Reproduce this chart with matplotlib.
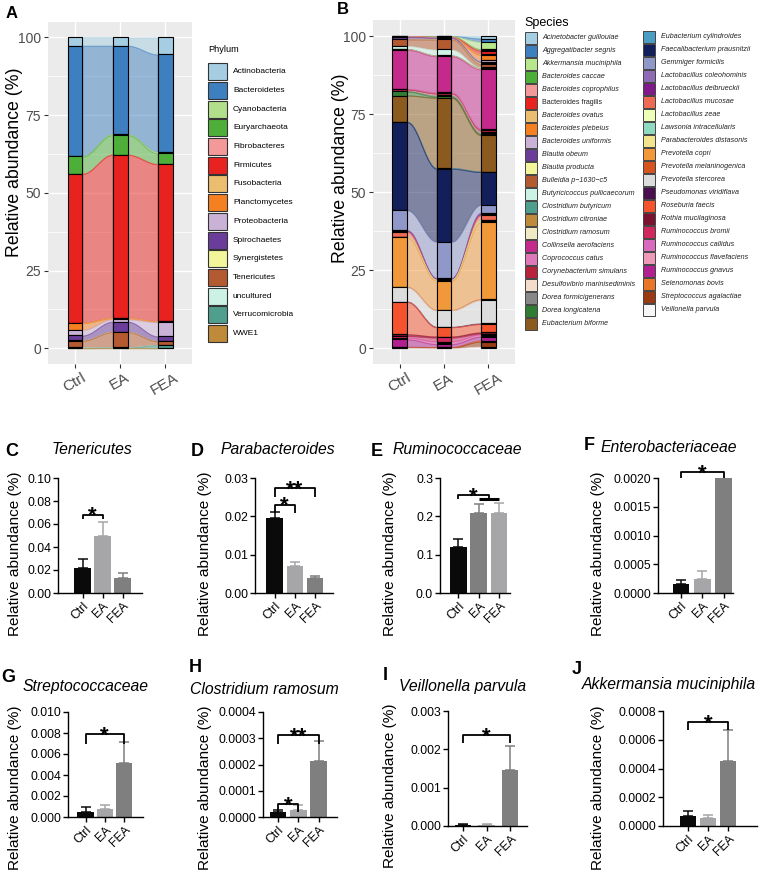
import numpy as np
import matplotlib
matplotlib.use('Agg')
import matplotlib.pyplot as plt
from matplotlib.patches import Rectangle

plt.rcParams['font.family'] = ['Liberation Sans', 'DejaVu Sans']

W, H = 765, 873
fig = plt.figure(figsize=(W / 100, H / 100), dpi=100)

groups = ['Ctrl', 'EA', 'FEA']

# ---------------- panel A data (phylum, % per group, top to bottom)
phyla = ['Actinobacteria', 'Bacteroidetes', 'Cyanobacteria', 'Euryarchaeota',
         'Fibrobacteres', 'Firmicutes', 'Fusobacteria', 'Planctomycetes',
         'Proteobacteria', 'Spirochaetes', 'Synergistetes', 'Tenericutes',
         'uncultured', 'Verrucomicrobia', 'WWE1']
phylum_ctrl = [2.7, 35.4, 0.2, 5.5, 0.05, 47.9, 0.1, 2.2, 1.8, 1.6, 0.05, 2.2, 0.1, 0.1, 0.1]
phylum_ea = [2.7, 28.4, 0.3, 6.3, 0.05, 52.4, 0.2, 0.3, 0.8, 3.2, 0.1, 4.8, 0.2, 0.1, 0.15]
phylum_fea = [5.5, 31.3, 0.5, 3.4, 0.05, 50.5, 0.1, 0.2, 4.6, 1.5, 0.05, 1.2, 0.1, 0.9, 0.1]
phylum_colors = ['#a6cee3', '#3e7fbf', '#b2df8a', '#4daf3a', '#f4999a', '#e8231f',
                 '#ebbd6e', '#f58021', '#cab2d6', '#6a3d9a', '#f2f59a', '#b45a30',
                 '#ccf2e6', '#4f9e8e', '#bf8a3a']

# ---------------- panel B data (species, % per group, top to bottom)
species = ['Acinetobacter guillouiae', 'Aggregatibacter segnis', 'Akkermansia muciniphila',
           'Bacteroides caccae', 'Bacteroides coprophilus', 'Bacteroides fragilis',
           'Bacteroides ovatus', 'Bacteroides plebeius', 'Bacteroides uniformis',
           'Blautia obeum', 'Blautia producta', 'Bulleidia p\u22121630\u2212c5',
           'Butyricicoccus pullicaecorum', 'Clostridium butyricum', 'Clostridium citroniae',
           'Clostridium ramosum', 'Collinsella aerofaciens', 'Coprococcus catus',
           'Corynebacterium simulans', 'Desulfovibrio marinisediminis', 'Dorea formicigenerans',
           'Dorea longicatena', 'Eubacterium biforme', 'Eubacterium cylindroides',
           'Faecalibacterium prausnitzii', 'Gemmiger formicilis', 'Lactobacillus coleohominis',
           'Lactobacillus delbrueckii', 'Lactobacillus mucosae', 'Lactobacillus zeae',
           'Lawsonia intracellularis', 'Parabacteroides distasonis', 'Prevotella copri',
           'Prevotella melaninogenica', 'Prevotella stercorea', 'Pseudomonas viridiflava',
           'Roseburia faecis', 'Rothia mucilaginosa', 'Ruminococcus bromii',
           'Ruminococcus callidus', 'Ruminococcus flavefaciens', 'Ruminococcus gnavus',
           'Selenomonas bovis', 'Streptococcus agalactiae', 'Veillonella parvula']
species_ctrl = [0.0, 0.0, 0.05, 0.05, 0.0, 0.0, 0.05, 0.0, 0.05, 0.8, 0.05, 2.1, 1.0, 0.1, 0.1,
                0.05, 12.6, 0.1, 0.5, 0.05, 0.1, 1.3, 8.4, 0.1, 28.2, 6.4, 0.2, 0.3, 1.6, 0.05,
                0.05, 0.1, 15.9, 0.1, 4.6, 0.05, 10.4, 0.5, 0.6, 0.3, 0.2, 2.4, 0.1, 0.2, 0.2]
species_ea = [0.05, 0.05, 0.1, 0.1, 0.05, 0.05, 0.05, 0.05, 0.05, 0.5, 0.1, 3.2, 1.9, 0.1, 0.1,
              0.05, 11.6, 0.3, 0.4, 0.2, 0.4, 0.4, 22.5, 0.2, 23.4, 11.6, 0.2, 0.3, 0.1, 0.05,
              0.1, 0.1, 9.4, 0.1, 5.3, 0.1, 3.0, 0.3, 1.3, 0.5, 0.3, 1.0, 0.1, 0.2, 0.1]
species_fea = [0.8, 1.0, 2.4, 0.3, 0.2, 1.1, 0.3, 1.7, 0.4, 0.4, 0.3, 1.1, 0.3, 0.1, 0.1,
               0.2, 19.0, 0.3, 0.7, 0.2, 0.5, 0.3, 11.7, 0.1, 10.5, 2.5, 0.4, 0.4, 1.6, 0.2,
               0.2, 0.2, 24.8, 0.2, 7.5, 0.2, 2.7, 0.4, 0.3, 0.3, 0.3, 1.3, 0.3, 1.6, 0.6]
species_colors = ['#a6cee3', '#3e7fbf', '#b8e68c', '#4daf3a', '#f4999a', '#e8231f',
                  '#ebbd6e', '#f58021', '#cab2d6', '#6a3d9a', '#f2f59a', '#b45a30',
                  '#ccf2e6', '#4f9e8e', '#bf8a3a', '#efe9c4', '#c42a8c', '#de78b9',
                  '#b8223a', '#f4dccb', '#888888', '#2f7d33', '#8b5a1e', '#4b9dc4',
                  '#131f5a', '#8f98c9', '#8e6bb5', '#801a8a', '#ef6a55', '#eeffb8',
                  '#8ed9c0', '#f2e38d', '#f0983a', '#d55420', '#dcdcdc', '#4a0f4f',
                  '#f5532d', '#7b1230', '#d0285e', '#d96bbf', '#ee99b8', '#b0208f',
                  '#e8772a', '#9a3a12', '#f7f7f7']

# ---------------- panels C-J data (mean and upper error, %)
tenericutes_mean = [0.022, 0.050, 0.013]
tenericutes_err = [0.008, 0.012, 0.004]
parabacteroides_mean = [0.0195, 0.0070, 0.0038]
parabacteroides_err = [0.0017, 0.0012, 0.0006]
ruminococcaceae_mean = [0.120, 0.208, 0.210]
ruminococcaceae_err = [0.022, 0.024, 0.024]
enterobacteriaceae_mean = [0.00015, 0.00025, 0.0020]
enterobacteriaceae_err = [0.00008, 0.00014, 0.0]
streptococcaceae_mean = [0.0005, 0.0008, 0.0051]
streptococcaceae_err = [0.00045, 0.0003, 0.0020]
c_ramosum_mean = [0.000018, 0.000027, 0.000213]
c_ramosum_err = [0.000007, 0.00002, 0.000075]
v_parvula_mean = [0.00003, 0.00002, 0.00145]
v_parvula_err = [0.00003, 0.00002, 0.00065]
a_muciniphila_mean = [0.00007, 0.000055, 0.00045]
a_muciniphila_err = [0.000035, 0.000025, 0.000215]


def px_axes(l, t, r, b):
    return fig.add_axes([l / W, 1 - b / H, (r - l) / W, (b - t) / H])


def alluvial(ax, cols, colors, w=1 / 3):
    vals = np.array(cols).T
    ncat, ncol = vals.shape
    below = vals[::-1].cumsum(axis=0)[::-1] - vals
    top = below + vals
    xs = np.arange(1, ncol + 1)
    t = np.linspace(0, 1, 80)
    s = (1 - np.cos(np.pi * t)) / 2
    for j in range(ncol - 1):
        xa, xb = xs[j] + w / 2, xs[j + 1] - w / 2
        xc = xa + (xb - xa) * t
        for k in range(ncat):
            if vals[k, j] == 0 and vals[k, j + 1] == 0:
                continue
            yt = top[k, j] + (top[k, j + 1] - top[k, j]) * s
            yb = below[k, j] + (below[k, j + 1] - below[k, j]) * s
            ax.fill_between(xc, yb, yt, facecolor=colors[k], alpha=0.5,
                            edgecolor=colors[k], linewidth=0.8, zorder=2)
    cl = np.array(colors)
    for j in range(ncol):
        m = vals[:, j] > 0
        ax.bar(np.full(m.sum(), xs[j]), vals[m, j], bottom=below[m, j], width=w,
               color=cl[m], edgecolor='black', linewidth=0.8, zorder=3)
    ax.set_facecolor('#EBEBEB')
    ax.set_xlim(0.4, 3.6)
    ax.set_ylim(-5, 105)
    ax.set_yticks([0, 25, 50, 75, 100])
    ax.set_yticks([12.5, 37.5, 62.5, 87.5], minor=True)
    ax.set_xticks([1, 2, 3], groups)
    ax.grid(which='major', color='white', linewidth=1.0)
    ax.grid(which='minor', axis='y', color='white', linewidth=0.5)
    ax.set_axisbelow(True)
    for sp in ax.spines.values():
        sp.set_visible(False)
    ax.tick_params(which='major', length=3, color='#333333', labelcolor='#4D4D4D',
                   labelsize=10, pad=2)
    ax.tick_params(which='minor', length=0)
    plt.setp(ax.get_xticklabels(), rotation=30, ha='center', fontsize=11)


axA = px_axes(48, 21.8, 192, 363.9)
alluvial(axA, [phylum_ctrl, phylum_ea, phylum_fea], phylum_colors)
axB = px_axes(373, 20.4, 515, 364)
alluvial(axB, [species_ctrl, species_ea, species_fea], species_colors)

# ---------------- bar panels
col_a = ['#0a0a0a', '#a6a6a8', '#7f7f7f']
col_b = ['#0a0a0a', '#7f7f7f', '#a6a6a8']

bar_panels = [
    # letter, title, means, errs, ymax, ticks, fmt, colors, brackets, layout
    ('C', 'Tenericutes', tenericutes_mean, tenericutes_err, 0.10,
     [0, 0.02, 0.04, 0.06, 0.08, 0.10], '%.2f', col_a,
     [(0, 1, 0.068, 0.064, '*')],
     dict(letter=(12, 451), title=(92, 450), ax=(58, 478, 142, 593),
          c=(82.5, 102.5, 122.5), ylab=(15, 554))),
    ('D', 'Parabacteroides', parabacteroides_mean, parabacteroides_err, 0.03,
     [0, 0.01, 0.02, 0.03], '%.2f', col_a,
     [(0, 2, 0.0274, 0.025, '**'), (0, 1, 0.023, 0.0209, '*')],
     dict(letter=(197, 451), title=(278, 450), ax=(255, 478, 333, 593),
          c=(274.5, 294.5, 315), ylab=(205, 554))),
    ('E', 'Ruminococcaceae', ruminococcaceae_mean, ruminococcaceae_err, 0.3,
     [0, 0.1, 0.2, 0.3], '%.1f', col_b,
     [(0, 1.5, 0.256, 0.245, '*')],
     dict(letter=(377, 452), title=(457, 450), ax=(440, 478, 510, 593),
          c=(458.5, 479, 499), ylab=(390, 554))),
    ('F', 'Enterobacteriaceae', enterobacteriaceae_mean, enterobacteriaceae_err, 0.002,
     [0, 0.0005, 0.001, 0.0015, 0.002], '%.4f', col_a,
     [(0, 2, 0.0021, 0.0020, '*')],
     dict(letter=(589, 446), title=(669, 448), ax=(658, 478, 733, 593),
          c=(681, 702.5, 723.5), ylab=(598, 554))),
    ('G', 'Streptococcaceae', streptococcaceae_mean, streptococcaceae_err, 0.010,
     [0, 0.002, 0.004, 0.006, 0.008, 0.010], '%.3f', col_a,
     [(0, 2, 0.0079, 0.0070, '*')],
     dict(letter=(8, 677), title=(86, 687), ax=(68, 712, 143, 817),
          c=(85.5, 104, 124), ylab=(15, 788))),
    ('H', 'Clostridium ramosum', c_ramosum_mean, c_ramosum_err, 0.0004,
     [0, 0.0001, 0.0002, 0.0003, 0.0004], '%.4f', col_a,
     [(0, 2, 0.000312, 0.00028, '**'), (0, 1, 0.00005, 0.00002, '*')],
     dict(letter=(195, 668), title=(264, 689), ax=(263, 712, 337, 817),
          c=(278, 298, 318.5), ylab=(205, 788))),
    ('I', 'Veillonella parvula', v_parvula_mean, v_parvula_err, 0.003,
     [0, 0.001, 0.002, 0.003], '%.3f', col_a,
     [(0, 2, 0.00237, 0.00217, '*')],
     dict(letter=(385, 675), title=(463, 687), ax=(448, 711, 527, 826),
          c=(463, 486.5, 510), ylab=(390, 786))),
    ('J', 'Akkermansia muciniphila', a_muciniphila_mean, a_muciniphila_err, 0.0008,
     [0, 0.0002, 0.0004, 0.0006, 0.0008], '%.4f', col_a,
     [(0, 2, 0.000723, 0.000668, '*')],
     dict(letter=(577, 669), title=(669, 684), ax=(663, 711, 757, 826),
          c=(688, 708, 728), ylab=(598, 788))),
]

ov = fig.add_axes([0, 0, 1, 1])
ov.set_xlim(0, W)
ov.set_ylim(H, 0)
ov.axis('off')

for letter, title, means, errs, ymax, ticks, fmt, cols, brackets, lay in bar_panels:
    l, t, r, b = lay['ax']
    c = lay['c']
    sp = (c[2] - c[0]) / 2
    ax = px_axes(l, t, r, b)
    x = np.arange(3)
    ax.bar(x, means, width=16.5 / sp, color=cols, zorder=2)
    for i in range(3):
        ax.errorbar(x[i], means[i], yerr=[[0], [errs[i]]], fmt='none', ecolor=cols[i],
                    elinewidth=1.1, capsize=3.5, capthick=1.1, zorder=1)
    ax.set_xlim(-(c[0] - l) / sp, 2 + (r - c[2]) / sp)
    ax.set_ylim(0, ymax)
    ax.set_yticks(ticks, [fmt % v for v in ticks])
    ax.set_xticks(x, groups)
    plt.setp(ax.get_xticklabels(), rotation=45, ha='right', rotation_mode='anchor',
             fontsize=10)
    for s in ['top', 'right']:
        ax.spines[s].set_visible(False)
    for s in ['left', 'bottom']:
        ax.spines[s].set_linewidth(1.0)
    ax.tick_params(length=3.5, width=1.0, labelsize=8.8, pad=1.5)
    ax.patch.set_alpha(0)
    for x0, x1, yb, ye, lab in brackets:
        ax.plot([x0, x0, x1, x1], [ye, yb, yb, ye], color='black', lw=1.3,
                clip_on=False, solid_capstyle='butt')
        ax.annotate(lab, ((x0 + x1) / 2, yb), xytext=(0, -5.3), textcoords='offset points',
                    ha='center', va='baseline', fontsize=16, fontweight='bold',
                    annotation_clip=False)
    if letter == 'E':
        ax.plot([1, 2], [0.245, 0.245], color='black', lw=2.2, clip_on=False,
                solid_capstyle='butt')
    ov.text(*lay['letter'], letter, fontsize=13, fontweight='bold', ha='center', va='center')
    ov.text(*lay['title'], title, fontsize=11.3, fontstyle='italic', ha='center', va='center')
    ov.text(*lay['ylab'], 'Relative abundance (%)', fontsize=11.1, rotation=90,
            ha='center', va='center')

# ---------------- panel labels and axis titles for A/B
ov.text(12, 14, 'A', fontsize=12, fontweight='bold', ha='center', va='center')
ov.text(343, 9, 'B', fontsize=12, fontweight='bold', ha='center', va='center')
ov.text(15, 162, 'Relative abundance (%)', fontsize=12.8, rotation=90, ha='center', va='center')
ov.text(341, 168, 'Relative abundance (%)', fontsize=12.8, rotation=90, ha='center', va='center')

# phylum legend
ov.text(208, 50, 'Phylum', fontsize=6.6, ha='left', va='center')
for i, (name, col) in enumerate(zip(phyla, phylum_colors)):
    yc = 71.7 + i * 18.7
    ov.add_patch(Rectangle((208.5, yc - 8.5), 19, 17, facecolor=col, edgecolor='#333333', lw=0.8))
    ov.text(233, yc, name, fontsize=6, ha='left', va='center')

# species legend
ov.text(524, 23, 'Species', fontsize=9, ha='left', va='center')
for i, (name, col) in enumerate(zip(species, species_colors)):
    if i < 23:
        px, tx, yc = 525, 542.5, 37.5 + i * 13.0
    else:
        px, tx, yc = 643.5, 661.5, 36.5 + (i - 23) * 13.0
    ov.add_patch(Rectangle((px, yc - 6), 12, 12, facecolor=col, edgecolor='#444444', lw=0.7))
    style = 'normal' if name == 'Bacteroides fragilis' else 'italic'
    ov.text(tx, yc, name, fontsize=5.1, fontstyle=style, ha='left', va='center', color='#222222')

fig.savefig('out.png', dpi=100)
